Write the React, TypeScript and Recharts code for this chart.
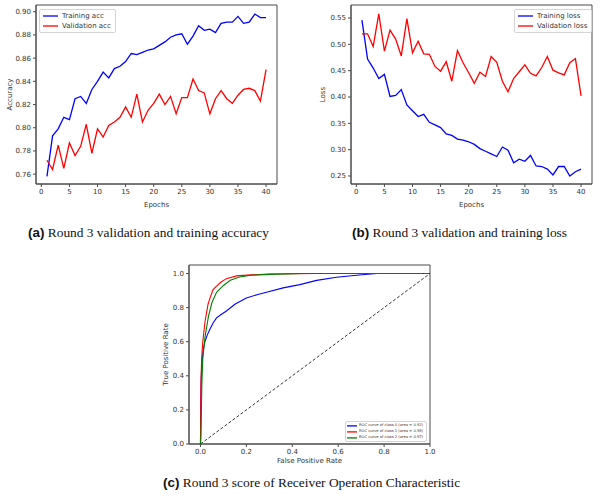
import React from 'react';
import { LineChart, Line, XAxis, YAxis, Legend, ReferenceArea } from 'recharts';

const epochs = Array.from({ length: 40 }, (_, i) => i + 1);

const trainAcc = [
  0.758, 0.793, 0.799, 0.809, 0.807, 0.825, 0.827, 0.821, 0.833, 0.840,
  0.848, 0.843, 0.851, 0.853, 0.857, 0.864, 0.863, 0.865, 0.867, 0.868,
  0.871, 0.874, 0.878, 0.880, 0.881, 0.872, 0.879, 0.888, 0.884, 0.885,
  0.882, 0.890, 0.891, 0.891, 0.896, 0.890, 0.891, 0.898, 0.895, 0.895,
];
const valAcc = [
  0.772, 0.764, 0.785, 0.765, 0.787, 0.776, 0.784, 0.803, 0.778, 0.799,
  0.792, 0.802, 0.805, 0.809, 0.818, 0.809, 0.829, 0.805, 0.815, 0.821,
  0.829, 0.820, 0.827, 0.812, 0.826, 0.826, 0.842, 0.832, 0.830, 0.812,
  0.825, 0.832, 0.825, 0.821, 0.828, 0.833, 0.834, 0.832, 0.823, 0.850,
];
const trainLoss = [
  0.546, 0.472, 0.455, 0.435, 0.443, 0.401, 0.403, 0.414, 0.385, 0.374,
  0.363, 0.367, 0.352, 0.347, 0.342, 0.330, 0.327, 0.320, 0.318, 0.315,
  0.310, 0.302, 0.297, 0.292, 0.287, 0.305, 0.299, 0.275, 0.282, 0.278,
  0.289, 0.269, 0.268, 0.263, 0.252, 0.268, 0.268, 0.250, 0.258, 0.263,
];
const valLoss = [
  0.520, 0.520, 0.496, 0.558, 0.487, 0.527, 0.510, 0.478, 0.549, 0.484,
  0.506, 0.482, 0.481, 0.458, 0.449, 0.467, 0.430, 0.488, 0.465, 0.446,
  0.426, 0.447, 0.439, 0.477, 0.466, 0.430, 0.410, 0.435, 0.448, 0.461,
  0.445, 0.440, 0.456, 0.477, 0.451, 0.446, 0.442, 0.465, 0.473, 0.402,
];

const epochTicks = [0, 5, 10, 15, 20, 25, 30, 35, 40];
const accTicks = [0.76, 0.78, 0.8, 0.82, 0.84, 0.86, 0.88, 0.9];
const lossTicks = [0.25, 0.3, 0.35, 0.4, 0.45, 0.5, 0.55];
const rateTicks = [0, 0.2, 0.4, 0.6, 0.8, 1.0];

// ROC curves (false positive rate / true positive rate)
const fpr0 = [0, 0.001, 0.003, 0.006, 0.012, 0.019, 0.03, 0.04, 0.055, 0.07, 0.09, 0.113, 0.15, 0.2, 0.25, 0.288, 0.36, 0.433, 0.506, 0.593, 0.68, 0.767, 1.0];
const tpr0 = [0, 0.2, 0.38, 0.47, 0.55, 0.6, 0.64, 0.67, 0.71, 0.74, 0.76, 0.78, 0.82, 0.857, 0.877, 0.89, 0.916, 0.935, 0.96, 0.978, 0.99, 1.0, 1.0];
const fpr1 = [0, 0.001, 0.002, 0.005, 0.01, 0.02, 0.033, 0.045, 0.055, 0.07, 0.09, 0.113, 0.157, 0.22, 0.3, 0.5, 1.0];
const tpr1 = [0, 0.15, 0.35, 0.5, 0.6, 0.72, 0.82, 0.87, 0.906, 0.926, 0.95, 0.97, 0.986, 0.992, 0.997, 1.0, 1.0];
const fpr2 = [0, 0.002, 0.003, 0.006, 0.01, 0.02, 0.035, 0.05, 0.07, 0.1, 0.13, 0.17, 0.22, 0.3, 0.45, 1.0];
const tpr2 = [0, 0.05, 0.12, 0.35, 0.5, 0.63, 0.75, 0.83, 0.89, 0.93, 0.96, 0.98, 0.99, 0.995, 1.0, 1.0];
const rocNames = [
  'ROC curve of class 0 (area = 0.92)',
  'ROC curve of class 1 (area = 0.98)',
  'ROC curve of class 2 (area = 0.97)',
];
const rocColors = ['#0000ff', '#ff0000', '#008000'];

const accData = epochs.map((e, i) => ({ epoch: e, train: trainAcc[i], val: valAcc[i] }));
const lossData = epochs.map((e, i) => ({ epoch: e, train: trainLoss[i], val: valLoss[i] }));
const toPts = (xs: number[], ys: number[]) => xs.map((x, i) => ({ x, y: ys[i] }));
const diagonal = [{ x: 0, y: 0 }, { x: 1, y: 1 }];
const rocSeries = [toPts(fpr0, tpr0), toPts(fpr1, tpr1), toPts(fpr2, tpr2)];

const FRAME = '#4a4a4a';
const TXT = '#333';
const tickStyle = { fontSize: 7, fill: TXT, fontFamily: 'DejaVu Sans' };

const vLabel = (text: string, x: number) => (props: any) => {
  const vb = props.viewBox;
  const cy = vb.y + vb.height / 2;
  return (
    <text x={x} y={cy} transform={`rotate(-90 ${x} ${cy})`} textAnchor="middle"
      dominantBaseline="central" fontSize={7} fill={TXT} fontFamily="DejaVu Sans">{text}</text>
  );
};
const hLabel = (text: string, y: number) => (props: any) => {
  const vb = props.viewBox;
  return (
    <text x={vb.x + vb.width / 2} y={y} textAnchor="middle" dominantBaseline="central"
      fontSize={7} fill={TXT} fontFamily="DejaVu Sans">{text}</text>
  );
};

// legend box drawn from the legend payload; colours may be given explicitly per row
const legendBox = (fontSize: number, rowH: number, lineW: number, gap: number, pad: string, lw: number,
  colors?: string[]) => (props: any) => (
  <div style={{
    border: '1px solid #d4d4d4', borderRadius: 2, background: 'rgba(255,255,255,0.85)',
    padding: pad, fontFamily: 'DejaVu Sans', fontSize, color: TXT, lineHeight: `${rowH}px`,
  }}>
    {(props.payload || []).filter((p: any) => p.type !== 'none' && p.value).map((p: any, i: number) => (
      <div key={p.value} style={{ display: 'flex', alignItems: 'center', whiteSpace: 'nowrap' }}>
        <svg width={lineW} height={rowH} style={{ flex: 'none', marginRight: gap }}>
          <line x1={0} x2={lineW} y1={rowH / 2} y2={rowH / 2} strokeWidth={lw}
            stroke={colors ? colors[i] : p.color} />
        </svg>
        {p.value}
      </div>
    ))}
  </div>
);

const frame = (xd: number[], yd: number[]) => (
  <ReferenceArea x1={xd[0]} x2={xd[1]} y1={yd[0]} y2={yd[1]} fill="none" fillOpacity={0}
    stroke={FRAME} strokeWidth={1} ifOverflow="visible" />
);

const Caption = ({ tag, text, left, top }: { tag: string; text: string; left: number; top: number }) => (
  <div style={{ position: 'absolute', left, top, whiteSpace: 'nowrap', color: '#111', fontSize: 13.4 }}>
    <span style={{ fontFamily: 'Liberation Sans', fontWeight: 'bold' }}>({tag})</span>
    <span style={{ fontFamily: 'Liberation Serif' }}> {text}</span>
  </div>
);

export default function App() {
  const epochDomain = [-0.95, 41.95];
  const accDomain = [0.7515, 0.9058];
  const lossDomain = [0.2348, 0.5747];
  const rateX = [-0.05, 1.0];
  const rateY = [0, 1.05];
  return (
    <div style={{ position: 'absolute', left: 0, top: 0, width: 600, height: 498, background: '#fff', overflow: 'hidden' }}>
      <div style={{ position: 'absolute', left: 0, top: 0 }}>
        <LineChart width={290} height={215} data={accData} margin={{ top: 5, right: 13, bottom: 0, left: 0 }}>
          <XAxis dataKey="epoch" type="number" domain={epochDomain} ticks={epochTicks} height={31}
            tick={tickStyle} tickSize={3} tickLine={{ stroke: FRAME }} axisLine={{ stroke: FRAME }}
            interval={0} allowDataOverflow label={hLabel('Epochs', 205)} />
          <YAxis type="number" domain={accDomain} ticks={accTicks} width={36} interval={0}
            tick={tickStyle} tickSize={3} tickLine={{ stroke: FRAME }} axisLine={{ stroke: FRAME }}
            tickFormatter={(v: number) => v.toFixed(2)} allowDataOverflow label={vLabel('Accuracy', 10)} />
          {frame(epochDomain, accDomain)}
          <Legend verticalAlign="middle" content={legendBox(7, 10, 15, 4, '1px 4px 1px 3px', 1.3)}
            wrapperStyle={{ position: 'absolute', left: 39, top: 9, width: 'auto' }} />
          <Line dataKey="train" name="Training acc" stroke="#0000ff" strokeWidth={1.3} dot={false} isAnimationActive={false} />
          <Line dataKey="val" name="Validation acc" stroke="#ff0000" strokeWidth={1.3} dot={false} isAnimationActive={false} />
        </LineChart>
      </div>

      <div style={{ position: 'absolute', left: 300, top: 0 }}>
        <LineChart width={300} height={215} data={lossData} margin={{ top: 5, right: 8, bottom: 0, left: 0 }}>
          <XAxis dataKey="epoch" type="number" domain={epochDomain} ticks={epochTicks} height={31}
            tick={tickStyle} tickSize={3} tickLine={{ stroke: FRAME }} axisLine={{ stroke: FRAME }}
            interval={0} allowDataOverflow label={hLabel('Epochs', 205)} />
          <YAxis type="number" domain={lossDomain} ticks={lossTicks} width={51} interval={0}
            tick={tickStyle} tickSize={3} tickLine={{ stroke: FRAME }} axisLine={{ stroke: FRAME }}
            tickFormatter={(v: number) => v.toFixed(2)} allowDataOverflow label={vLabel('Loss', 23)} />
          {frame(epochDomain, lossDomain)}
          <Legend verticalAlign="middle" content={legendBox(7, 10, 15, 4, '1px 4px 1px 3px', 1.3)}
            wrapperStyle={{ position: 'absolute', left: 214, top: 9, width: 'auto' }} />
          <Line dataKey="train" name="Training loss" stroke="#0000ff" strokeWidth={1.3} dot={false} isAnimationActive={false} />
          <Line dataKey="val" name="Validation loss" stroke="#ff0000" strokeWidth={1.3} dot={false} isAnimationActive={false} />
        </LineChart>
      </div>

      <div style={{ position: 'absolute', left: 150, top: 255 }}>
        <LineChart width={290} height={215} margin={{ top: 10, right: 10, bottom: 0, left: 0 }}>
          <XAxis dataKey="x" type="number" domain={rateX} ticks={rateTicks} height={26}
            tick={tickStyle} tickSize={3} tickLine={{ stroke: FRAME }} axisLine={{ stroke: FRAME }}
            interval={0} allowDataOverflow tickFormatter={(v: number) => v.toFixed(1)}
            label={hLabel('False Positive Rate', 206)} />
          <YAxis type="number" domain={rateY} ticks={rateTicks} width={39} interval={0}
            tick={tickStyle} tickSize={3} tickLine={{ stroke: FRAME }} axisLine={{ stroke: FRAME }}
            tickFormatter={(v: number) => v.toFixed(1)} allowDataOverflow label={vLabel('True Positive Rate', 16)} />
          {frame(rateX, rateY)}
          <Legend verticalAlign="middle" content={legendBox(3.7, 5.8, 10, 2, '1px 3px 1px 1px', 1.3, rocColors)}
            wrapperStyle={{ position: 'absolute', left: 195, top: 166, width: 'auto' }} />
          {rocSeries.map((pts, i) => (
            <Line key={rocNames[i]} data={pts} dataKey="y" name={rocNames[i]} stroke={rocColors[i]}
              strokeWidth={1.1} dot={false} isAnimationActive={false} />
          ))}
          <Line data={diagonal} dataKey="y" name="" legendType="none" stroke="#000" strokeWidth={0.8} strokeDasharray="3 2" dot={false} isAnimationActive={false} />
        </LineChart>
      </div>

      <Caption tag="a" text="Round 3 validation and training accuracy" left={28} top={225} />
      <Caption tag="b" text="Round 3 validation and training loss" left={352} top={225} />
      <Caption tag="c" text="Round 3 score of Receiver Operation Characteristic" left={163} top={475} />
    </div>
  );
}
